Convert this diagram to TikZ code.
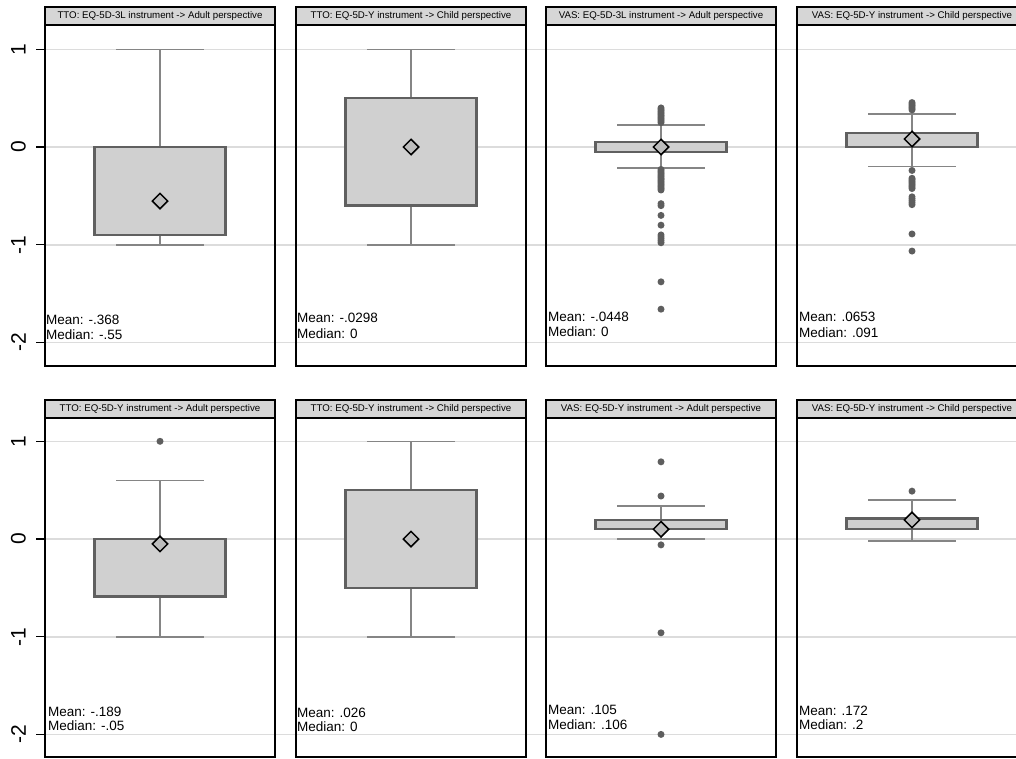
\documentclass[tikz,border=0pt]{standalone}
\usepackage{fontspec}
\setmainfont{Liberation Sans}
\usetikzlibrary{shapes.geometric}
\definecolor{gridc}{HTML}{DCDCDC}
\definecolor{boxfill}{HTML}{D0D0D0}
\definecolor{boxline}{HTML}{606060}
\definecolor{whiskc}{HTML}{858585}
\definecolor{dotc}{HTML}{5E5E5E}
\definecolor{hdrfill}{HTML}{D6D6D6}
\definecolor{diamfill}{HTML}{BDBDBD}
\tikzset{
  gridline/.style={draw=gridc, line width=1.6pt},
  tickline/.style={draw=black, line width=1.4pt},
  ticklabel/.style={font=\fontsize{21}{21}\selectfont, rotate=90, inner sep=0pt},
  frame/.style={draw=black, line width=1.8pt},
  hdrbox/.style={draw=black, line width=1.8pt, fill=hdrfill},
  hdrtext/.style={font=\fontsize{9.7}{10}\selectfont, inner sep=0pt},
  stattext/.style={font=\fontsize{13.5}{15}\selectfont, anchor=west, inner sep=0pt},
  whisk/.style={draw=whiskc, line width=1.4pt},
  capline/.style={draw=whiskc, line width=1.6pt},
  boxst/.style={draw=boxline, fill=boxfill, line width=2.4pt},
  outlier/.style={fill=dotc},
  diam/.style={diamond, draw=black, fill=diamfill, line width=1.5pt, minimum width=16pt, minimum height=16pt, inner sep=0pt},
}
% #1 cx, #2 lower quartile, #3 upper quartile, #4 lower whisker, #5 upper whisker
\newcommand\mybxp[5]{%
  \draw[whisk] (#1,#3) -- (#1,#5);
  \draw[whisk] (#1,#2) -- (#1,#4);
  \draw[capline] (#1-44,#5) -- (#1+44,#5);
  \draw[capline] (#1-44,#4) -- (#1+44,#4);
  \draw[boxst] (#1-65.5,#2) rectangle (#1+65.5,#3);
}
\newcommand\mydiam[3]{\node[diam] (#3) at (#1,#2) {};}
\newcommand\mydots[2]{\foreach \v in {#2} {\fill[outlier] (#1,\v) circle (3.5pt);}}
\begin{document}
\begin{tikzpicture}[x=1pt,y=-1pt]
\useasboundingbox (0,0) rectangle (1016,758);
\clip (0,0) rectangle (1016,758);
\fill[white] (0,0) rectangle (1016,758);

% ---------- gridlines, ticks, tick labels ----------
\foreach \row/\yz in {t/147, b/539} {
  \foreach \k/\lab in {1/1, 0/0, -1/-1, -2/-2} {
    \draw[gridline] (45,{\yz-97.7*\k}) -- (1016,{\yz-97.7*\k});
    \draw[tickline] (36,{\yz-97.7*\k}) -- (45,{\yz-97.7*\k});
    \node[ticklabel] (lab\row\k) at (18.5,{\yz-97.7*\k}) {\lab};
  }
}

% ---------- frames and headers ----------
\foreach \L/\n/\t in {45/1/{TTO: EQ-5D-3L instrument -> Adult perspective},
                      296/2/{TTO: EQ-5D-Y instrument -> Child perspective},
                      546/3/{VAS: EQ-5D-3L instrument -> Adult perspective},
                      797/4/{VAS: EQ-5D-Y instrument -> Child perspective}} {
  \draw[frame] (\L,25) rectangle (\L+230,366);
  \draw[hdrbox] (\L,7) rectangle (\L+230,25);
  \node[hdrtext] (hdr\n) at (\L+115,16) {\t};
}
\foreach \L/\n/\t in {45/5/{TTO: EQ-5D-Y instrument -> Adult perspective},
                      296/6/{TTO: EQ-5D-Y instrument -> Child perspective},
                      546/7/{VAS: EQ-5D-Y instrument -> Adult perspective},
                      797/8/{VAS: EQ-5D-Y instrument -> Child perspective}} {
  \draw[frame] (\L,418) rectangle (\L+230,757);
  \draw[hdrbox] (\L,400) rectangle (\L+230,418);
  \node[hdrtext] (hdr\n) at (\L+115,409) {\t};
}

% ---------- top row data ----------
\begin{scope}[y=97.7pt, yshift=-147pt]
  \mybxp{160}{-0.9}{0}{-1}{1}
  \mydiam{160}{-0.553}{d1}
  \mybxp{411}{-0.6}{0.5}{-1}{1}
  \mydiam{411}{0}{d2}
  \mybxp{661}{-0.054}{0.054}{-0.215}{0.225}
  \mydots{661}{0.25,0.265,...,0.40}
  \mydots{661}{-0.23,-0.245,...,-0.44}
  \mydots{661}{-0.58,-0.60,-0.70,-0.80,-0.90,-0.92,-0.94,-0.96,-0.98,-1.38,-1.66}
  \mydiam{661}{0}{d3}
  \mybxp{912}{0.003}{0.146}{-0.2}{0.335}
  \mydots{912}{0.38,0.395,...,0.46}
  \mydots{912}{-0.24,-0.32,-0.335,...,-0.43}
  \mydots{912}{-0.51,-0.53,-0.55,-0.57,-0.59,-0.89,-1.065}
  \mydiam{912}{0.082}{d4}
\end{scope}

% ---------- bottom row data ----------
\begin{scope}[y=97.7pt, yshift=-539pt]
  \mybxp{160}{-0.59}{0}{-1}{0.6}
  \mydots{160}{1}
  \mydiam{160}{-0.05}{d5}
  \mybxp{411}{-0.5}{0.5}{-1}{1}
  \mydiam{411}{0}{d6}
  \mybxp{661}{0.1}{0.195}{0}{0.34}
  \mydots{661}{0.79,0.44,-0.06,-0.96,-2.0}
  \mydiam{661}{0.1}{d7}
  \mybxp{912}{0.1}{0.21}{-0.02}{0.4}
  \mydots{912}{0.49}
  \mydiam{912}{0.195}{d8}
\end{scope}

% ---------- statistics text ----------
\node[stattext] (mean1) at (46,320) {Mean: -.368};
\node[stattext] (med1)  at (46,335) {Median: -.55};
\node[stattext] (mean2) at (297,318) {Mean: -.0298};
\node[stattext] (med2)  at (297,334) {Median: 0};
\node[stattext] (mean3) at (548,317) {Mean: -.0448};
\node[stattext] (med3)  at (548,332) {Median: 0};
\node[stattext] (mean4) at (799,317) {Mean: .0653};
\node[stattext] (med4)  at (799,333) {Median: .091};
\node[stattext] (mean5) at (48,712) {Mean: -.189};
\node[stattext] (med5)  at (48,726) {Median: -.05};
\node[stattext] (mean6) at (297,713) {Mean: .026};
\node[stattext] (med6)  at (297,727) {Median: 0};
\node[stattext] (mean7) at (548,710) {Mean: .105};
\node[stattext] (med7)  at (548,725) {Median: .106};
\node[stattext] (mean8) at (799,711) {Mean: .172};
\node[stattext] (med8)  at (799,725) {Median: .2};
\end{tikzpicture}
\end{document}
